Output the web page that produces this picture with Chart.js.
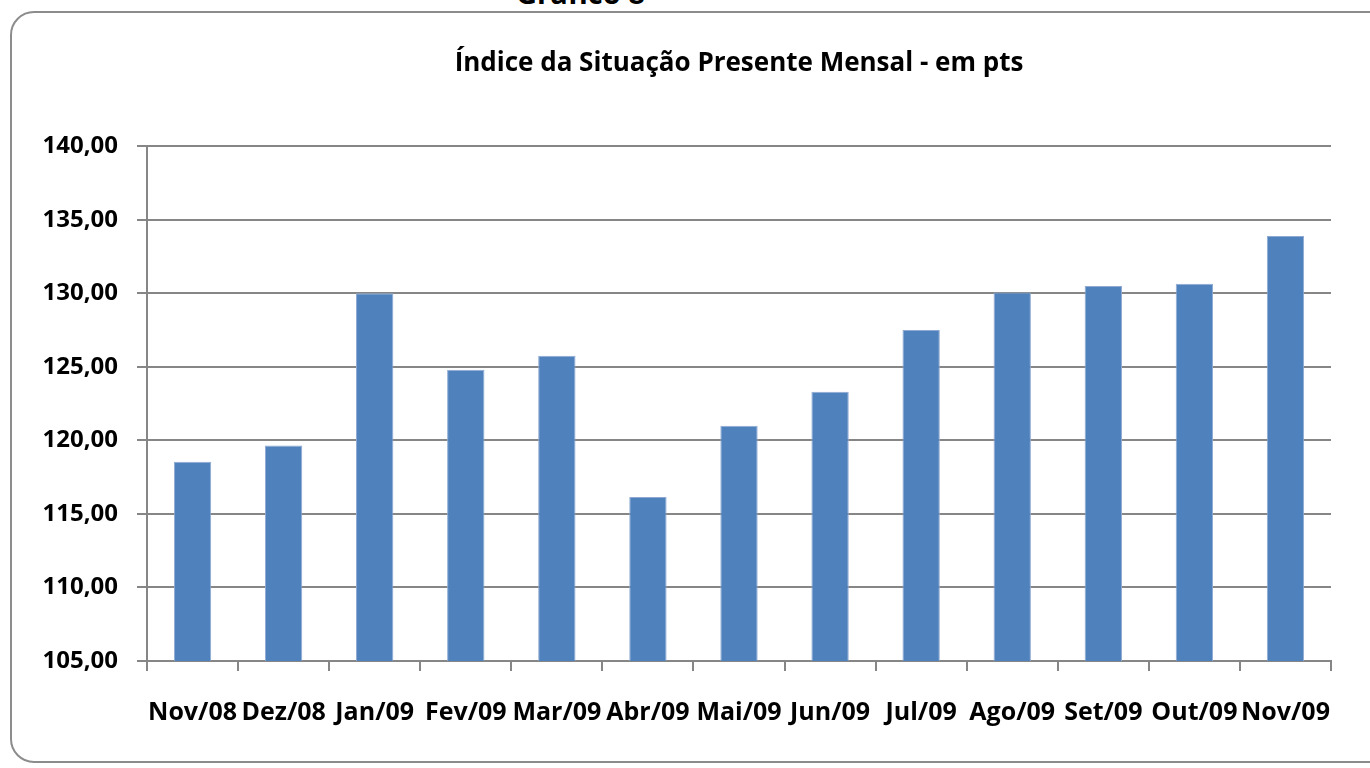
<!DOCTYPE html>
<html>
<head>
<meta charset="utf-8">
<script src="https://cdn.jsdelivr.net/npm/chart.js@4"></script>
<style>
  html, body { margin: 0; padding: 0; background: #fff; overflow: hidden; }
  #wrap { position: relative; width: 1370px; height: 768px; }
  #frame {
    position: absolute; left: 10px; top: 11px; width: 1420px; height: 752px;
    border: 2px solid #8c8c8c; border-radius: 24px; box-sizing: border-box;
  }
  #fig {
    position: absolute; left: 516px; top: -27px; margin: 0; line-height: 30px;
    font: bold 29px "Open Sans", sans-serif; color: #000;
  }
  canvas { position: absolute; left: 0; top: 0; }
</style>
</head>
<body>
<div id="wrap">
  <div id="frame"></div>
  <div id="fig">Gráfico 8</div>
  <canvas id="grafico" width="1370" height="768"></canvas>
</div>
<script>
// dados do gráfico
const meses = ['Nov/08', 'Dez/08', 'Jan/09', 'Fev/09', 'Mar/09', 'Abr/09', 'Mai/09',
               'Jun/09', 'Jul/09', 'Ago/09', 'Set/09', 'Out/09', 'Nov/09'];
const indice = [118.55, 119.65, 130.00, 124.80, 125.75, 116.15, 121.00,
                123.30, 127.50, 130.05, 130.50, 130.65, 133.90];
const eixoY = [105, 110, 115, 120, 125, 130, 135, 140];

const fonte = '"Open Sans", sans-serif';
const cinza = '#868686';

const ctx = document.getElementById('grafico').getContext('2d');

new Chart(ctx, {
    type: 'bar',
    data: {
        labels: meses,
        datasets: [{
            data: indice,
            backgroundColor: '#4F81BD',
            borderColor: '#8eaad3',
            borderWidth: 1,
            barPercentage: 0.41,
            categoryPercentage: 1.0
        }]
    },
    options: {
        responsive: false,
        animation: false,
        layout: { padding: { left: 0, right: 39, top: 0, bottom: 0 } },
        plugins: {
            legend: { display: false },
            tooltip: { enabled: false },
            title: {
                display: true,
                text: 'Índice da Situação Presente Mensal - em pts',
                color: '#000',
                fullSize: false,
                font: { family: fonte, size: 26, weight: 'bold', lineHeight: 1.2 },
                padding: { top: 48, bottom: 67 }
            }
        },
        scales: {
            x: {
                grid: {
                    drawOnChartArea: false,
                    drawTicks: true,
                    tickLength: 10,
                    color: cinza,
                    lineWidth: 2,
                    offset: true
                },
                border: { color: cinza, width: 2 },
                ticks: {
                    color: '#000',
                    padding: 27,
                    maxRotation: 0,
                    autoSkip: false,
                    font: { family: fonte, size: 25, weight: 'bold' }
                },
                afterFit: (scale) => { scale.height = 107; }
            },
            y: {
                min: eixoY[0],
                max: eixoY[eixoY.length - 1],
                afterBuildTicks: (scale) => {
                    scale.ticks = eixoY.map(v => ({ value: v }));
                },
                grid: {
                    color: cinza,
                    lineWidth: 2,
                    tickLength: 10
                },
                border: { color: cinza, width: 2 },
                ticks: {
                    color: '#000',
                    padding: 19,
                    font: { family: fonte, size: 24, weight: 'bold' },
                    callback: (v) => Number(v).toFixed(2).replace('.', ',')
                },
                afterFit: (scale) => { scale.width = 147; }
            }
        }
    }
});
</script>
</body>
</html>
